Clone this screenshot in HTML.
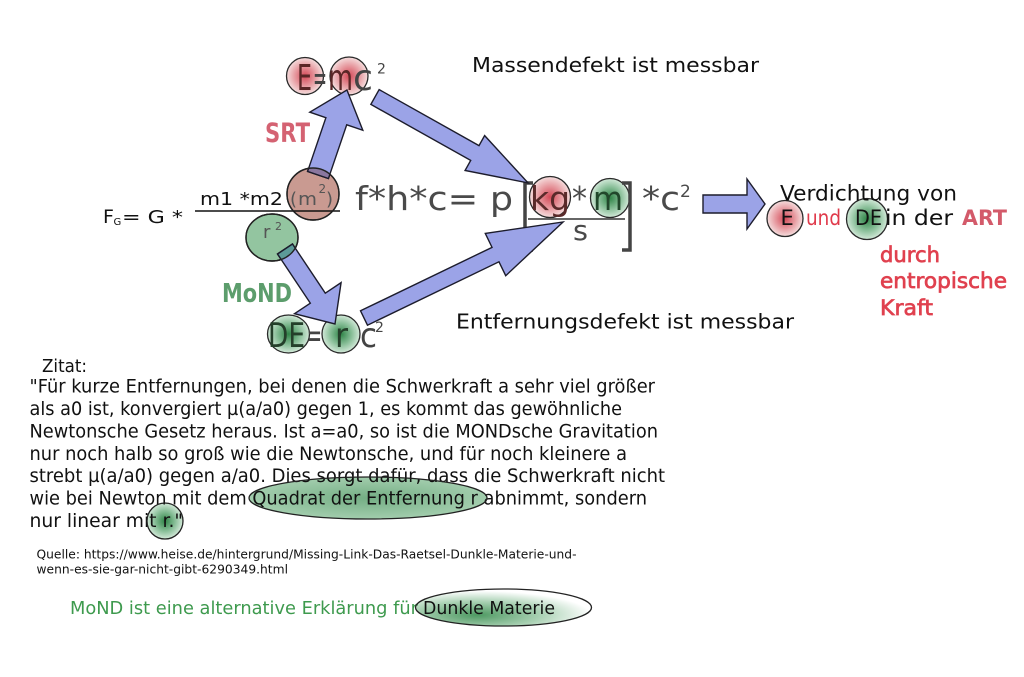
<!DOCTYPE html>
<html><head><meta charset="utf-8">
<style>
html,body{margin:0;padding:0;background:#fff;}
svg{display:block;}
text{font-family:"DejaVu Sans","Liberation Sans",sans-serif;}
.arr{fill:#9ba3e7;stroke:#1c1c2c;stroke-width:1.4;stroke-linejoin:miter;}
.q{font-size:19px;fill:#111;}
</style></head><body>
<svg width="1024" height="677" viewBox="0 0 1024 677" xmlns="http://www.w3.org/2000/svg">
<defs>
<radialGradient id="gr" cx="50%" cy="50%" r="50%">
 <stop offset="0" stop-color="#d44a58"/>
 <stop offset="0.55" stop-color="#e79aa0"/>
 <stop offset="1" stop-color="#f5dede"/>
</radialGradient>
<radialGradient id="gg" cx="50%" cy="50%" r="50%">
 <stop offset="0" stop-color="#2f8447"/>
 <stop offset="0.55" stop-color="#86bd96"/>
 <stop offset="1" stop-color="#d3e9d9"/>
</radialGradient>
<radialGradient id="gell" cx="50%" cy="50%" r="50%">
 <stop offset="0" stop-color="#74ae84"/>
 <stop offset="1" stop-color="#a2cdad"/>
</radialGradient>
<radialGradient id="gdm" cx="35%" cy="70%" r="65%">
 <stop offset="0" stop-color="#4e9962"/>
 <stop offset="0.55" stop-color="#a9d1b3"/>
 <stop offset="1" stop-color="#ffffff"/>
</radialGradient>
<clipPath id="cBrown"><circle cx="313" cy="194" r="26"/></clipPath>
<clipPath id="cGreen"><ellipse cx="272" cy="237.5" rx="26" ry="23.5"/></clipPath>
</defs>
<rect width="1024" height="677" fill="#fff"/>

<!-- under-text fills -->
<ellipse cx="368" cy="498" rx="119" ry="21" fill="url(#gell)"/>
<circle cx="165" cy="521" r="18" fill="url(#gg)"/>
<ellipse cx="503.5" cy="607.5" rx="88" ry="18.5" fill="url(#gdm)"/>

<!-- brown & green base circles -->
<circle cx="313" cy="194" r="26" fill="#c99a91" stroke="#222" stroke-width="1.4"/>
<ellipse cx="272" cy="237.5" rx="26" ry="23.5" fill="#93c5a0" stroke="#222" stroke-width="1.4"/>

<!-- highlight circles (under text) -->
<g stroke="#2a2a2a" stroke-width="1.3">
<circle cx="305" cy="76" r="18.5" fill="url(#gr)"/>
<circle cx="349" cy="76" r="19" fill="url(#gr)"/>
<circle cx="550" cy="197" r="20.5" fill="url(#gr)"/>
<circle cx="610" cy="198" r="19.5" fill="url(#gg)"/>
<ellipse cx="288.5" cy="334" rx="21" ry="19" fill="url(#gg)"/>
<circle cx="341" cy="334" r="19" fill="url(#gg)"/>
<circle cx="785" cy="218.5" r="18" fill="url(#gr)"/>
<circle cx="867" cy="219" r="20.5" fill="url(#gg)"/>
</g>

<!-- Titles -->
<text x="472" y="72" font-size="20.5" fill="#111" textLength="287" lengthAdjust="spacingAndGlyphs">Massendefekt ist messbar</text>
<text x="456" y="328.5" font-size="20.5" fill="#111" textLength="338" lengthAdjust="spacingAndGlyphs">Entfernungsdefekt ist messbar</text>

<!-- E=mc2 top -->
<g font-size="36">
<text x="297" y="90" fill="#5a2626" textLength="15" lengthAdjust="spacingAndGlyphs">E</text>
<text x="313" y="90" fill="#444" textLength="14" lengthAdjust="spacingAndGlyphs">=</text>
<text x="328" y="90" fill="#5a2626" textLength="25" lengthAdjust="spacingAndGlyphs">m</text>
<text x="353" y="90" fill="#444" textLength="20" lengthAdjust="spacingAndGlyphs">c</text>
<text x="377" y="73.5" fill="#444" font-size="14">2</text>
</g>

<!-- big equation -->
<g fill="#4a4a4a">
<text x="355" y="210" font-size="33" textLength="158" lengthAdjust="spacingAndGlyphs">f*h*c= p</text>
<text x="530" y="210" font-size="33" fill="#5a2a2a" textLength="40" lengthAdjust="spacingAndGlyphs">kg</text>
<text x="572" y="210" font-size="33" textLength="15" lengthAdjust="spacingAndGlyphs">*</text>
<text x="593" y="210" font-size="33" fill="#21472b" textLength="30" lengthAdjust="spacingAndGlyphs">m</text>
<text x="573" y="240" font-size="28" textLength="15" lengthAdjust="spacingAndGlyphs">s</text>
<text x="642" y="210" font-size="33" textLength="38" lengthAdjust="spacingAndGlyphs">*c</text>
<text x="680" y="197" font-size="17">2</text>
</g>
<line x1="528" y1="219" x2="625" y2="219" stroke="#333" stroke-width="1.6"/>
<polyline points="533,183 525,183 525,250 533,250" fill="none" stroke="#444" stroke-width="3.5"/>
<polyline points="622,183 630,183 630,250 622,250" fill="none" stroke="#444" stroke-width="3.5"/>

<!-- F_G formula -->
<g fill="#111">
<text x="103" y="223" font-size="19">F</text>
<text x="113.5" y="225" font-size="10">G</text>
<text x="122" y="223" font-size="18" textLength="61" lengthAdjust="spacingAndGlyphs">= G *</text>
<text x="200" y="205" font-size="18" textLength="83" lengthAdjust="spacingAndGlyphs">m1 *m2</text>
</g>
<g fill="#555">
<text x="290" y="205" font-size="18">(</text>
<text x="298" y="205" font-size="18" textLength="19" lengthAdjust="spacingAndGlyphs">m</text>
<text x="318.5" y="193" font-size="12">2</text>
<text x="326" y="205" font-size="18">)</text>
<text x="263" y="238" font-size="18">r</text>
<text x="275" y="230" font-size="11">2</text>
</g>
<line x1="195" y1="211" x2="340" y2="211" stroke="#111" stroke-width="1.6"/>

<!-- DE=rc2 bottom -->
<g font-size="34">
<text x="268" y="347" fill="#243f2a" textLength="37" lengthAdjust="spacingAndGlyphs">DE</text>
<text x="307" y="347" fill="#444" textLength="15" lengthAdjust="spacingAndGlyphs">=</text>
<text x="335" y="347" fill="#243f2a" textLength="13" lengthAdjust="spacingAndGlyphs">r</text>
<text x="360" y="347" fill="#444" textLength="17" lengthAdjust="spacingAndGlyphs">c</text>
<text x="375" y="332" fill="#444" font-size="14">2</text>
</g>

<!-- labels -->
<text x="265" y="142" font-size="27" font-weight="bold" fill="#d46272" textLength="45" lengthAdjust="spacingAndGlyphs">SRT</text>
<text x="222" y="302" font-size="26" font-weight="bold" fill="#5c9d6c" textLength="70" lengthAdjust="spacingAndGlyphs">MoND</text>

<!-- right side -->
<text x="780" y="200.5" font-size="21" fill="#111" textLength="177" lengthAdjust="spacingAndGlyphs">Verdichtung von</text>
<text x="780.5" y="225" font-size="21" fill="#111">E</text>
<text x="806" y="225" font-size="21" fill="#e0394a" textLength="35" lengthAdjust="spacingAndGlyphs">und</text>
<text x="855" y="225" font-size="21" fill="#111" textLength="27" lengthAdjust="spacingAndGlyphs">DE</text>
<text x="885" y="225" font-size="21" fill="#111" textLength="68" lengthAdjust="spacingAndGlyphs">in der</text>
<text x="962" y="225" font-size="21" font-weight="bold" fill="#d35a6a" textLength="45" lengthAdjust="spacingAndGlyphs">ART</text>
<g fill="#e0414f" stroke="#e0414f" stroke-width="0.7" font-size="21">
<text x="880" y="262" textLength="60" lengthAdjust="spacingAndGlyphs">durch</text>
<text x="880" y="288" textLength="127" lengthAdjust="spacingAndGlyphs">entropische</text>
<text x="880" y="315" textLength="53" lengthAdjust="spacingAndGlyphs">Kraft</text>
</g>

<!-- quote -->
<text x="42" y="372" font-size="17.5" fill="#111" textLength="45" lengthAdjust="spacingAndGlyphs">Zitat:</text>
<text class="q" x="29.5" y="392.5" textLength="625.5" lengthAdjust="spacingAndGlyphs">"Für kurze Entfernungen, bei denen die Schwerkraft a sehr viel größer</text>
<text class="q" x="29.5" y="415" textLength="592.5" lengthAdjust="spacingAndGlyphs">als a0 ist, konvergiert µ(a/a0) gegen 1, es kommt das gewöhnliche</text>
<text class="q" x="29.5" y="437.5" textLength="628.5" lengthAdjust="spacingAndGlyphs">Newtonsche Gesetz heraus. Ist a=a0, so ist die MONDsche Gravitation</text>
<text class="q" x="29.5" y="460" textLength="597.5" lengthAdjust="spacingAndGlyphs">nur noch halb so groß wie die Newtonsche, und für noch kleinere a</text>
<text class="q" x="29.5" y="482" textLength="635.5" lengthAdjust="spacingAndGlyphs">strebt µ(a/a0) gegen a/a0. Dies sorgt dafür, dass die Schwerkraft nicht</text>
<text class="q" x="29.5" y="504.5" textLength="617.5" lengthAdjust="spacingAndGlyphs">wie bei Newton mit dem Quadrat der Entfernung r abnimmt, sondern</text>
<text class="q" x="29.5" y="527" textLength="153.5" lengthAdjust="spacingAndGlyphs">nur linear mit r."</text>

<ellipse cx="368" cy="498" rx="119" ry="21" fill="none" stroke="#222" stroke-width="1.3"/>
<circle cx="165" cy="521" r="18" fill="none" stroke="#222" stroke-width="1.3"/>

<!-- source -->
<text x="36.5" y="558.5" font-size="12.5" fill="#111" textLength="540" lengthAdjust="spacingAndGlyphs">Quelle: https://www.heise.de/hintergrund/Missing-Link-Das-Raetsel-Dunkle-Materie-und-</text>
<text x="36.5" y="573.5" font-size="12.5" fill="#111" textLength="251.5" lengthAdjust="spacingAndGlyphs">wenn-es-sie-gar-nicht-gibt-6290349.html</text>

<text x="70" y="614" font-size="17.5" fill="#3e9a4e" textLength="348" lengthAdjust="spacingAndGlyphs">MoND ist eine alternative Erklärung für</text>
<text x="423" y="614" font-size="17.5" fill="#111" textLength="132" lengthAdjust="spacingAndGlyphs">Dunkle Materie</text>
<ellipse cx="503.5" cy="607.5" rx="88" ry="18.5" fill="none" stroke="#222" stroke-width="1.3"/>

<!-- arrows -->
<g transform="translate(318,175) rotate(-71.2)">
<polygon class="arr" points="0,-11 56.8,-11 56.8,-28 89.8,0 56.8,28 56.8,11 0,11"/>
</g>
<g clip-path="url(#cBrown)">
<g transform="translate(318,175) rotate(-71.2)">
<polygon points="0,-11 56.8,-11 56.8,-28 89.8,0 56.8,28 56.8,11 0,11" fill="#8a779f" stroke="#1c1c2c" stroke-width="1.4"/>
</g></g>
<circle cx="313" cy="194" r="26" fill="none" stroke="#222" stroke-width="1.4"/>

<g transform="translate(375,97) rotate(29.3)">
<polygon class="arr" points="0,-8.5 114.5,-8.5 114.5,-20 175.5,0 114.5,20 114.5,8.5 0,8.5"/>
</g>

<g transform="translate(285,249) rotate(56.3)">
<polygon class="arr" points="0,-9 59.1,-9 59.1,-28 90.1,0 59.1,28 59.1,9 0,9"/>
</g>
<g clip-path="url(#cGreen)">
<g transform="translate(285,249) rotate(56.3)">
<polygon points="0,-9 59.1,-9 59.1,-28 90.1,0 59.1,28 59.1,9 0,9" fill="#5c9a98" stroke="#1c1c2c" stroke-width="1.4"/>
</g></g>
<ellipse cx="272" cy="237.5" rx="26" ry="23.5" fill="none" stroke="#222" stroke-width="1.4"/>

<g transform="translate(364,318) rotate(-25.75)">
<polygon class="arr" points="0,-8 146,-8 146,-23.5 221,0 146,23.5 146,8 0,8"/>
</g>

<g transform="translate(703,204)">
<polygon class="arr" points="0,-9 44,-9 44,-25 62,0 44,25 44,9 0,9"/>
</g>
</svg>
</body></html>
